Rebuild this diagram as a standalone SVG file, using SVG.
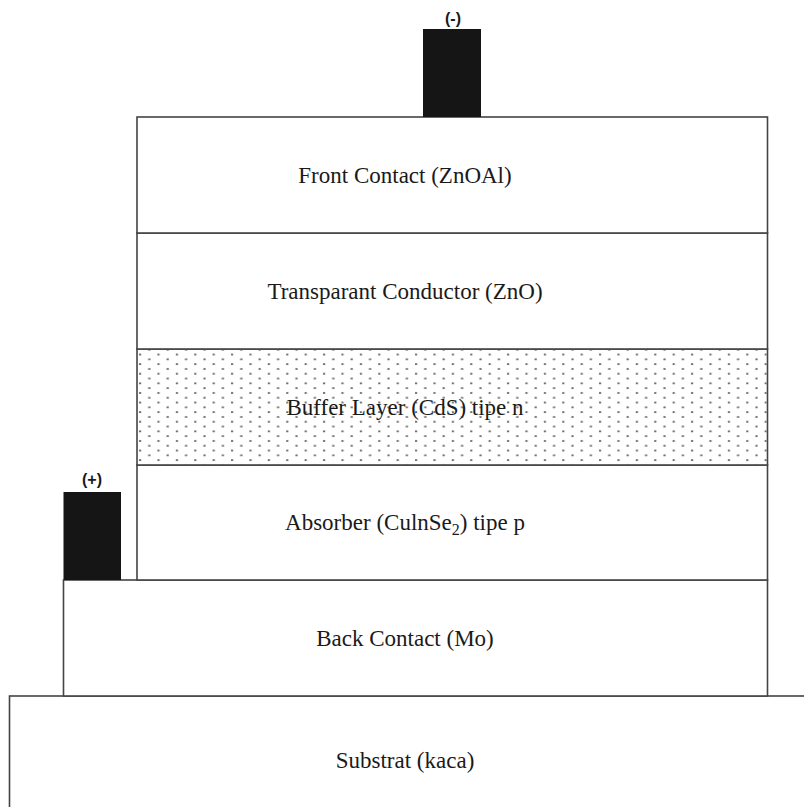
<svg xmlns="http://www.w3.org/2000/svg" width="804" height="807" viewBox="0 0 804 807">
<defs>
<pattern id="dots" x="140" y="349.7" width="18.4" height="9.6" patternUnits="userSpaceOnUse">
<rect x="8.2" y="-0.6" width="2.2" height="1.3" fill="#333"/>
<rect x="-1" y="4.2" width="2.2" height="1.3" fill="#333"/>
<rect x="17.4" y="4.2" width="2.2" height="1.3" fill="#333"/>
<rect x="8.2" y="9" width="2.2" height="1.3" fill="#333"/>
</pattern>
<style>
.layer{fill:#fff;stroke:#444;stroke-width:1.6}
.contact{fill:#151515;stroke:none}
.lbl{font-family:"Liberation Serif","Times New Roman",serif;font-size:23px;fill:#1a1a1a;text-anchor:middle}
.pol{font-family:"Liberation Sans",Arial,sans-serif;font-size:16px;font-weight:bold;fill:#1a1a1a;text-anchor:middle}
</style>
</defs>
<rect width="804" height="807" fill="#fff"/>
<g id="substrate">
<rect class="layer" x="9.5" y="696" width="810" height="130"/>
<text class="lbl" x="405" y="768">Substrat (kaca)</text>
</g>
<g id="back-contact">
<rect class="layer" x="63.5" y="580" width="704" height="116"/>
<text class="lbl" x="405" y="646">Back Contact (Mo)</text>
</g>
<g id="absorber">
<rect class="layer" x="137" y="465" width="630.5" height="115"/>
<text class="lbl" x="405" y="530">Absorber (CulnSe<tspan font-size="16" dy="5">2</tspan><tspan dy="-5">) tipe p</tspan></text>
</g>
<g id="buffer-layer">
<rect class="layer" x="137" y="349" width="630.5" height="116"/>
<rect x="137.8" y="349.8" width="629" height="114.4" fill="url(#dots)"/>
<text class="lbl" x="405" y="415">Buffer Layer (CdS) tipe n</text>
</g>
<g id="transparant-conductor">
<rect class="layer" x="137" y="233" width="630.5" height="116"/>
<text class="lbl" x="405" y="299">Transparant Conductor (ZnO)</text>
</g>
<g id="front-contact">
<rect class="layer" x="137" y="117" width="630.5" height="116"/>
<text class="lbl" x="405" y="183">Front Contact (ZnOAl)</text>
</g>
<g id="negative-contact">
<rect class="contact" x="423" y="29" width="58" height="88"/>
<text class="pol" x="453" y="24">(-)</text>
</g>
<g id="positive-contact">
<rect class="contact" x="63.5" y="492" width="57.5" height="88"/>
<text class="pol" x="92" y="485">(+)</text>
</g>
<g id="connectors"></g>
</svg>
